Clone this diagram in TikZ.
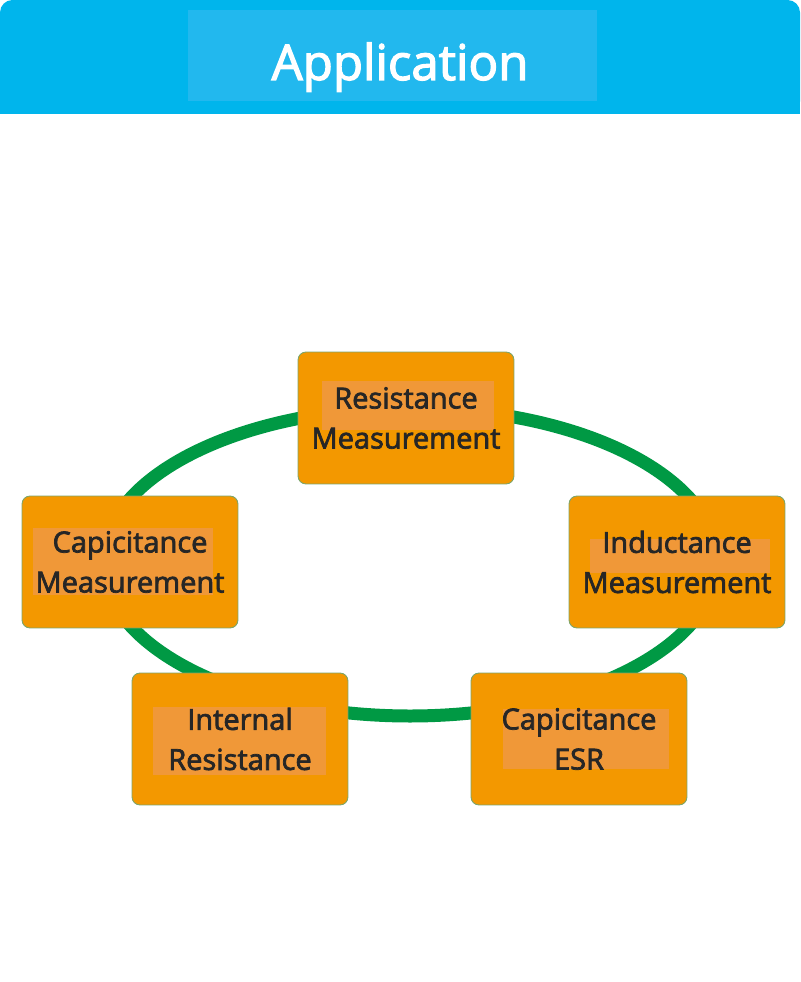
\documentclass[tikz,border=0pt]{standalone}
\usepackage{fontspec}
\setmainfont{Open Sans}
\newfontfamily\boxfont{Open Sans}[FakeBold=2.5]
\usepackage{xcolor}
\usepackage{tikz}
\usetikzlibrary{positioning, calc}

\definecolor{headblue}{RGB}{0,181,236}
\definecolor{headlight}{RGB}{34,184,238}
\definecolor{apporange}{RGB}{243,152,0}
\definecolor{hilite}{RGB}{240,152,56}
\definecolor{ringgreen}{RGB}{0,153,68}
\definecolor{boxedge}{RGB}{125,165,105}
\definecolor{textgray}{RGB}{38,38,38}

\begin{document}
\begin{tikzpicture}[x=0.02cm, y=-0.02cm,
    appbox/.style 2 args={draw=boxedge, line width=0.5pt, fill=apporange,
        rounded corners=0.16cm, minimum width=4.32cm, minimum height=2.64cm,
        align=center, text=textgray, font=\boxfont\fontsize{16.5}{22.8}\selectfont,
        path picture={\fill[hilite, sharp corners]
            ($(path picture bounding box.north west)+(#1)$) rectangle ++(#2);}},
    ring/.style={draw=ringgreen, line width=0.26cm}]
    \useasboundingbox (0,0) rectangle (800,982);

    % header band
    \fill[headblue, rounded corners=0.25cm] (0,0) rectangle (800,114);
    \fill[headblue] (0,50) rectangle (800,114);
    \node[fill=headlight, minimum width=8.18cm, minimum height=1.82cm, inner sep=0pt] (titlebox) at (392.5,55.5) {};
    \node[anchor=base, text=white, font=\boxfont\fontsize{28}{34}\selectfont] (title) at (400,80) {Application};

    \draw[ring] (410,562) ellipse [x radius=307, y radius=154];

    \node[appbox={24,29}{172,49}] (res) at (406,418) {Resistance\\Measurement};
    \node[appbox={11,32}{180,67}] (capm) at (130,562) {Capicitance\\Measurement};
    \node[appbox={21,43}{180,34}] (ind) at (677,562) {Inductance\\Measurement};
    \node[appbox={21,34}{173,68}] (intr) at (240,739) {Internal\\Resistance};
    \node[appbox={32,36}{166,60}] (esr) at (579,739) {Capicitance\\ESR};
\end{tikzpicture}
\end{document}
